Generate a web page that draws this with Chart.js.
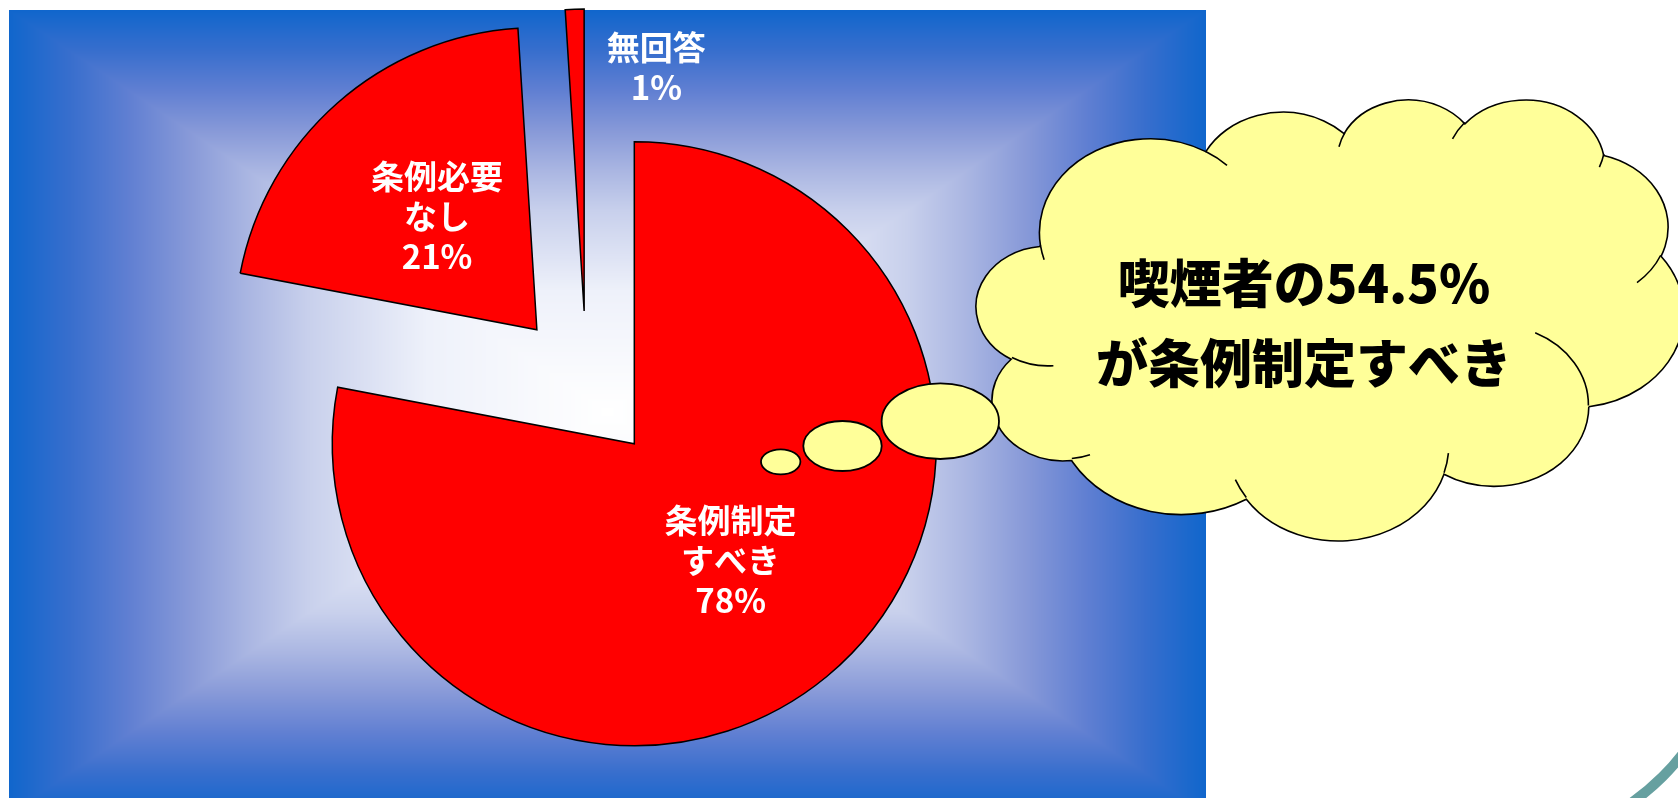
<!DOCTYPE html>
<html lang="ja">
<head>
<meta charset="utf-8">
<title>条例制定についての意見</title>
<script src="https://cdn.jsdelivr.net/npm/chart.js@4.4.1/dist/chart.umd.min.js"></script>
<style>
  html, body { margin: 0; padding: 0; background: #fff; overflow: hidden; }
  #wrap { position: relative; width: 1678px; height: 798px; }
</style>
</head>
<body>
<div id="wrap"><canvas id="pieChart"></canvas></div>
<script>
const categories = ['条例制定すべき', '条例必要なし', '無回答'];
const labelLines = [['条例制定', 'すべき'], ['条例必要', 'なし'], ['無回答']];
const shares = [78, 21, 1];
const calloutLines = ['喫煙者の54.5%', 'が条例制定すべき'];

const PIE_RADIUS = 302;
const EXPLODE = 75;

// blue panel behind the pie, white in the middle fading to blue at the edges
const panel = { left: 9, top: 10, width: 1197, height: 804 };
const ramp = [
  [0.00, [255, 255, 255]],
  [0.30, [238, 241, 250]],
  [0.50, [200, 208, 236]],
  [0.60, [170, 182, 226]],
  [0.70, [135, 153, 216]],
  [0.80, [96, 127, 210]],
  [0.90, [55, 110, 205]],
  [1.00, [16, 102, 204]]
];

function rampColor(t) {
  for (let i = 1; i < ramp.length; i++) {
    if (t <= ramp[i][0]) {
      const [t0, c0] = ramp[i - 1], [t1, c1] = ramp[i];
      const f = (t - t0) / (t1 - t0);
      return c0.map((v, k) => v + (c1[k] - v) * f);
    }
  }
  return ramp[ramp.length - 1][1];
}

function buildPanel() {
  const c = document.createElement('canvas');
  c.width = panel.width; c.height = panel.height;
  const g = c.getContext('2d');
  const img = g.createImageData(c.width, c.height);
  const hw = c.width / 2, hh = c.height / 2;
  for (let y = 0; y < c.height; y++) {
    for (let x = 0; x < c.width; x++) {
      const t = Math.max(Math.abs(x + 0.5 - hw) / hw, Math.abs(y + 0.5 - hh) / hh);
      const col = rampColor(t);
      const i = (y * c.width + x) * 4;
      img.data[i] = col[0]; img.data[i + 1] = col[1]; img.data[i + 2] = col[2]; img.data[i + 3] = 255;
    }
  }
  g.putImageData(img, 0, 0);
  return c;
}
const panelImage = buildPanel();

// cloud outline (43200 x 43200 path units), outer arcs then the little inner curls
const CLOUD_START = [3900, 14370];
const CLOUD_ARCS = [
  [6753, 9190, -11429249, 7426832],
  [5333, 7267, -8646143, 5396714],
  [4365, 5945, -8748475, 5983381],
  [4857, 6595, -7859164, 7034504],
  [5333, 7273, -4722533, 6541615],
  [6775, 9220, -2776035, 7816140],
  [5785, 7867, 37501, 6842000],
  [6752, 9215, 1347096, 6910353],
  [7720, 10543, 3974558, 4542661],
  [4360, 5918, -16496525, 8804134],
  [4345, 5945, -14809710, 9151131]
];
const CLOUD_INNER = [
  [4693, 26177, 4345, 5945, 5204520, 1585770],
  [6928, 34899, 4360, 5918, 4416628, 686848],
  [16478, 39090, 6752, 9215, 8257449, 844866],
  [28827, 34751, 6752, 9215, 387196, 959901],
  [34129, 22954, 5785, 7867, -4217541, 4255042],
  [41798, 15354, 5333, 7273, 1819082, 1665090],
  [38324, 5426, 4857, 6595, 824660, 891534],
  [29078, 3952, 4857, 6595, -8950887, 1091722],
  [22141, 4720, 4365, 5945, -9809656, 1061181],
  [14000, 5192, 6753, 9190, -4002417, 739161],
  [4127, 15789, 6753, 9190, 9459261, 711490]
];
const cloudBox = { left: 976, top: 100, right: 1684, bottom: 541 };
const bubbles = [
  { x: 780.7, y: 461.8, rx: 19.7, ry: 12.5 },
  { x: 842.5, y: 446, rx: 39.2, ry: 25 },
  { x: 940.3, y: 421.2, rx: 58.7, ry: 37.8 }
];

function arcGeom(p, wR, hR, stAng, swAng) {
  const st = stAng / 60000 * Math.PI / 180;
  const sw = swAng / 60000 * Math.PI / 180;
  const par = a => Math.atan2(wR * Math.sin(a), hR * Math.cos(a));
  const t1 = par(st);
  let t2 = par(st + sw);
  if (sw > 0) { while (t2 < t1) t2 += 2 * Math.PI; } else { while (t2 > t1) t2 -= 2 * Math.PI; }
  const cx = p[0] - wR * Math.cos(t1), cy = p[1] - hR * Math.sin(t1);
  return { cx, cy, t1, t2, ccw: sw < 0, end: [cx + wR * Math.cos(t2), cy + hR * Math.sin(t2)] };
}

// fit the path units into cloudBox
function cloudTransform() {
  let minX = Infinity, minY = Infinity, maxX = -Infinity, maxY = -Infinity;
  let p = CLOUD_START;
  CLOUD_ARCS.forEach(([wR, hR, st, sw]) => {
    const a = arcGeom(p, wR, hR, st, sw);
    for (let k = 0; k <= 60; k++) {
      const t = a.t1 + (a.t2 - a.t1) * k / 60;
      const x = a.cx + wR * Math.cos(t), y = a.cy + hR * Math.sin(t);
      minX = Math.min(minX, x); maxX = Math.max(maxX, x);
      minY = Math.min(minY, y); maxY = Math.max(maxY, y);
    }
    p = a.end;
  });
  const sx = (cloudBox.right - cloudBox.left) / (maxX - minX);
  const sy = (cloudBox.bottom - cloudBox.top) / (maxY - minY);
  return { sx, sy, tx: cloudBox.left - minX * sx, ty: cloudBox.top - minY * sy };
}

function drawCloud(ctx) {
  const tf = cloudTransform();
  ctx.save();
  ctx.save();
  ctx.translate(tf.tx, tf.ty);
  ctx.scale(tf.sx, tf.sy);
  ctx.beginPath();
  ctx.moveTo(CLOUD_START[0], CLOUD_START[1]);
  let p = CLOUD_START;
  CLOUD_ARCS.forEach(([wR, hR, st, sw]) => {
    const a = arcGeom(p, wR, hR, st, sw);
    ctx.ellipse(a.cx, a.cy, wR, hR, 0, a.t1, a.t2, a.ccw);
    p = a.end;
  });
  ctx.closePath();
  ctx.restore();
  ctx.fillStyle = '#ffff99';
  ctx.fill();
  ctx.lineWidth = 1.6;
  ctx.strokeStyle = '#000';
  ctx.stroke();

  ctx.save();
  ctx.translate(tf.tx, tf.ty);
  ctx.scale(tf.sx, tf.sy);
  ctx.beginPath();
  CLOUD_INNER.forEach(([x, y, wR, hR, st, sw]) => {
    const a = arcGeom([x, y], wR, hR, st, sw);
    ctx.moveTo(x, y);
    ctx.ellipse(a.cx, a.cy, wR, hR, 0, a.t1, a.t2, a.ccw);
  });
  ctx.restore();
  ctx.stroke();

  bubbles.forEach(b => {
    ctx.beginPath();
    ctx.ellipse(b.x, b.y, b.rx, b.ry, 0, 0, Math.PI * 2);
    ctx.fill();
    ctx.lineWidth = 1.8;
    ctx.stroke();
  });

  ctx.fillStyle = '#000';
  ctx.font = '900 52px "Noto Sans CJK JP", sans-serif';
  ctx.textAlign = 'center';
  ctx.textBaseline = 'middle';
  calloutLines.forEach((line, k) => ctx.fillText(line, 1304, 283 + k * 80));
  ctx.restore();
}

const panelPlugin = {
  id: 'panel',
  beforeDraw(chart) {
    const ctx = chart.ctx;
    ctx.save();
    ctx.drawImage(panelImage, panel.left, panel.top);
    // piece of the teal ring peeking in at the lower right corner
    ctx.beginPath();
    ctx.rect(1560, 690, 118, 108);
    ctx.clip();
    ctx.beginPath();
    ctx.arc(1500, 614, 230, 0, Math.PI * 2);
    ctx.lineWidth = 10;
    ctx.strokeStyle = '#66a0a0';
    ctx.stroke();
    ctx.restore();
  }
};

// pull every slice away from the middle along its bisector
const explodePlugin = {
  id: 'explode',
  afterDatasetsUpdate(chart) {
    chart.getDatasetMeta(0).data.forEach(arc => {
      const mid = (arc.startAngle + arc.endAngle) / 2;
      arc.x += Math.cos(mid) * EXPLODE;
      arc.y += Math.sin(mid) * EXPLODE;
    });
  }
};

const sliceLabelPlugin = {
  id: 'sliceLabels',
  afterDatasetsDraw(chart) {
    const ctx = chart.ctx;
    const arcs = chart.getDatasetMeta(0).data;
    ctx.save();
    ctx.fillStyle = '#fff';
    ctx.font = 'bold 33px "Noto Sans CJK JP", sans-serif';
    ctx.textAlign = 'center';
    ctx.textBaseline = 'middle';
    arcs.forEach((arc, i) => {
      const lines = [...labelLines[i], shares[i] + '%'];
      let mid = (arc.startAngle + arc.endAngle) / 2;
      let dist = arc.outerRadius * 0.5;
      if (arc.endAngle - arc.startAngle < 0.3) {
        // thin slice: label sits beside its tip
        mid += 0.32;
        dist = arc.outerRadius * 0.84;
      }
      const x = arc.x + Math.cos(mid) * dist;
      const y = arc.y + Math.sin(mid) * dist;
      lines.forEach((t, k) => ctx.fillText(t, x, y + (k - (lines.length - 1) / 2) * 40));
    });
    ctx.restore();
  }
};

const calloutPlugin = {
  id: 'callout',
  afterDraw(chart) {
    drawCloud(chart.ctx);
  }
};

new Chart(document.getElementById('pieChart'), {
  type: 'pie',
  data: {
    labels: categories,
    datasets: [{
      data: shares,
      backgroundColor: '#ff0000',
      borderColor: '#000000',
      borderWidth: 1.5,
      borderJoinStyle: 'miter'
    }]
  },
  options: {
    responsive: true,
    maintainAspectRatio: false,
    animation: false,
    events: [],
    radius: PIE_RADIUS,
    layout: { padding: { left: 0, top: 0, right: 505, bottom: 26 } },
    plugins: {
      legend: { display: false },
      tooltip: { enabled: false }
    }
  },
  plugins: [panelPlugin, explodePlugin, sliceLabelPlugin, calloutPlugin]
});
</script>
</body>
</html>
